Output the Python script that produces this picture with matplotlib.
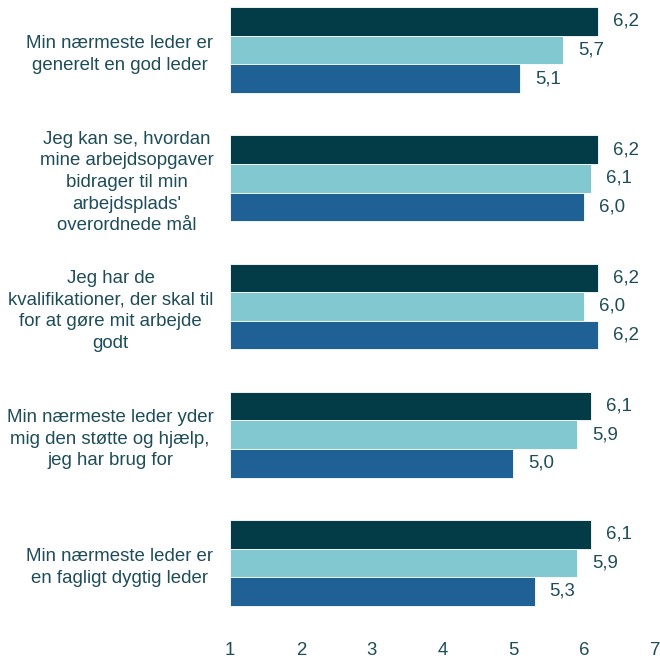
import matplotlib
matplotlib.use("Agg")
import matplotlib.pyplot as plt
import numpy as np

plt.rcParams['font.family'] = ['Liberation Sans', 'DejaVu Sans']

categories = [
    "Min nærmeste leder er\ngenerelt en god leder",
    "Jeg kan se, hvordan\nmine arbejdsopgaver\nbidrager til min\narbejdsplads'\noverordnede mål",
    "Jeg har de\nkvalifikationer, der skal til\nfor at gøre mit arbejde\ngodt",
    "Min nærmeste leder yder\nmig den støtte og hjælp,\njeg har brug for",
    "Min nærmeste leder er\nen fagligt dygtig leder",
]
series_1 = [6.2, 6.2, 6.2, 6.1, 6.1]
series_2 = [5.7, 6.1, 6.0, 5.9, 5.9]
series_3 = [5.1, 6.0, 6.2, 5.0, 5.3]
xticks = [1, 2, 3, 4, 5, 6, 7]

colors = ["#033b47", "#82c8d0", "#1f6194"]
text_color = "#1e4d5a"

fig = plt.figure(figsize=(6.6, 6.62), dpi=100)
ax = fig.add_axes([230 / 660, 1 - 627 / 662, 425 / 660, 627 / 662])

y = np.arange(len(categories))
h = 0.223
xmin = 1
for i, (vals, col) in enumerate(zip([series_1, series_2, series_3], colors)):
    pos = y + (i - 1) * h
    vals = np.array(vals)
    ax.barh(pos, vals - xmin, left=xmin, height=h, color=col, edgecolor='white', linewidth=0.6)
    for p, v in zip(pos, vals):
        ax.text(v + 0.21, p, f"{v:.1f}".replace('.', ','), va='center', ha='left',
                fontsize=13.4, color=text_color)

ax.set_xlim(1, 7)
ax.set_ylim(4.5, -0.39)
ax.set_xticks(xticks)
ax.set_xticklabels([str(t) for t in xticks], fontsize=13.4, color=text_color)
ax.set_yticks(y)
ax.set_yticklabels(categories, fontsize=13.4, color=text_color, ha='right',
                   multialignment='center', linespacing=1.36)
ax.tick_params(axis='y', length=0, pad=12)
ax.tick_params(axis='x', length=0, pad=11)
for s in ax.spines.values():
    s.set_visible(False)

fig.savefig("out.png", dpi=100)
